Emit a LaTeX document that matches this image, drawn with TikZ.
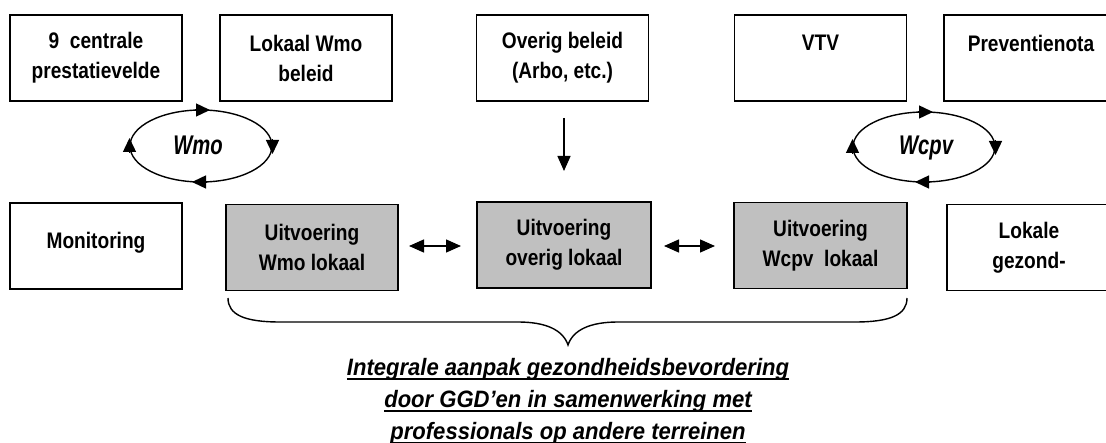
\documentclass[tikz,border=0pt]{standalone}
\usepackage{fontspec}
\setmainfont{Liberation Sans}[FakeStretch=0.85]
\newfontfamily\cycfont{Liberation Sans}[FakeStretch=0.75]
\newfontfamily\capfont{Liberation Sans}[FakeStretch=0.93]
\newcommand{\myuline}[1]{\setbox0\hbox{#1}\rlap{\rule[-4.5pt]{\wd0}{1.5pt}}\box0}
\usetikzlibrary{arrows.meta}
\definecolor{boxgray}{RGB}{192,192,192}
\tikzset{
  box/.style={draw, line width=1.4pt, minimum width=172pt, minimum height=86pt,
    inner sep=0pt, align=center, font=\fontsize{22.5}{30}\selectfont\bfseries},
  greybox/.style={box, fill=boxgray},
  tri/.style={-{Triangle[length=15pt,width=13pt]}, line width=1.4pt},
  dbl/.style={{Triangle[length=15pt,width=13pt]}-{Triangle[length=15pt,width=13pt]}, line width=1.4pt},
  ring/.style={line width=1.4pt},
  ringtip/.style={-{Triangle[length=14pt,width=13pt]}, line width=1.4pt},
  cyctext/.style={font=\cycfont\fontsize{27}{30}\selectfont\bfseries\itshape, inner sep=0pt, anchor=base},
  captext/.style={font=\capfont\fontsize{23.7}{32}\selectfont\bfseries\itshape, inner sep=0pt, anchor=base, align=center},
  bracestyle/.style={line width=1.4pt}
}
\begin{document}
\begin{tikzpicture}[x=1pt,y=-1pt]
\useasboundingbox (0,0) rectangle (1106,443);
% top row
\node[box] (b1) at (96,58) {9\ \ centrale\\prestatievelde};
\node[box] (b2) at (306,58) {Lokaal Wmo\\beleid};
\node[box] (b3) at (562.5,58) {Overig beleid\\(Arbo, etc.)};
\node[box] (b4) at (820.5,58) {VTV\\\mbox{}};
\node[box, minimum width=174pt] (b5) at (1031,58) {Preventienota\\\mbox{}};
% bottom row
\node[box] (m) at (96,246) {\raisebox{11pt}{Monitoring}};
\node[greybox] (w) at (312,247.5) {Uitvoering\\Wmo lokaal};
\node[greybox, minimum width=174pt] (o) at (564,245) {Uitvoering\\overig lokaal};
\node[greybox, minimum width=173pt] (c) at (820.5,245.5) {Uitvoering\\Wcpv\ \ lokaal};
\node[box, minimum width=164pt] (l) at (1029,247.5) {Lokale\\gezond-};
% double arrows
\coordinate (d1a) at (409,246); \coordinate (d1b) at (461,246);
\coordinate (d2a) at (664,246); \coordinate (d2b) at (715,246);
\draw[dbl] (d1a) -- (d1b);
\draw[dbl] (d2a) -- (d2b);
% down arrow
\coordinate (dn) at (564,118);
\coordinate (dnend) at (564,171);
\draw[tri] (dn) -- (dnend);
% Wmo cycle
\coordinate (wmoc) at (201,146);
\draw[ring] (wmoc) ellipse [x radius=71, y radius=36];
\node[cyctext] (wmo) at (198,155) {Wmo};
\draw[ringtip] ([shift={(-6,-36)}]wmoc) -- ([shift={(9,-36)}]wmoc);
\draw[ringtip] ([shift={(71.5,-7)}]wmoc) -- ([shift={(71.5,8)}]wmoc);
\draw[ringtip] ([shift={(6,36)}]wmoc) -- ([shift={(-9,36)}]wmoc);
\draw[ringtip] ([shift={(-71.5,7)}]wmoc) -- ([shift={(-71.5,-8)}]wmoc);
% Wcpv cycle
\coordinate (wcpvc) at (924,147);
\draw[ring] (wcpvc) ellipse [x radius=71, y radius=35];
\node[cyctext] (wcpv) at (926,155) {Wcpv};
\draw[ringtip] ([shift={(-6,-35)}]wcpvc) -- ([shift={(9,-35)}]wcpvc);
\draw[ringtip] ([shift={(71.5,-7)}]wcpvc) -- ([shift={(71.5,8)}]wcpvc);
\draw[ringtip] ([shift={(6,35)}]wcpvc) -- ([shift={(-9,35)}]wcpvc);
\draw[ringtip] ([shift={(-71.5,7)}]wcpvc) -- ([shift={(-71.5,-8)}]wcpvc);
% brace
\draw[bracestyle] (228,298) .. controls (228,315) and (245,322) .. (280,322) -- (518,322)
  .. controls (546,322) and (563,330) .. (568,345)
  .. controls (573,330) and (590,322) .. (618,322) -- (855,322)
  .. controls (890,322) and (907,315) .. (907,298);
% caption
\node[captext] (cap) at (568,439)
  {\myuline{Integrale aanpak gezondheidsbevordering}\\\myuline{door GGD’en in samenwerking met}\\\myuline{professionals op andere terreinen}};
\end{tikzpicture}
\end{document}
